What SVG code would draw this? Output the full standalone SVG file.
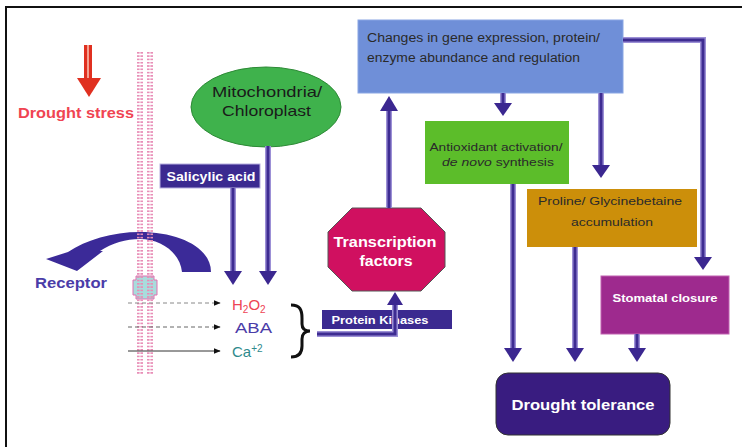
<svg xmlns="http://www.w3.org/2000/svg" width="742" height="447" viewBox="0 0 742 447">
  <defs>
    <pattern id="membraneDots" patternUnits="userSpaceOnUse" x="137" y="52" width="18" height="3.3">
      <rect x="0" y="0" width="2.6" height="1.6" fill="#e88cb6"/>
      <rect x="3.4" y="0" width="2.6" height="1.6" fill="#e88cb6"/>
      <rect x="10" y="0" width="2.6" height="1.6" fill="#e88cb6"/>
      <rect x="13.4" y="0" width="2.6" height="1.6" fill="#e88cb6"/>
    </pattern>
    <marker id="smallHead" viewBox="0 0 10 10" refX="9" refY="5" markerWidth="7" markerHeight="7" markerUnits="userSpaceOnUse" orient="auto">
      <path d="M0,1 L10,5 L0,9 Z" fill="#111"/>
    </marker>
  </defs>
  <style>
    .lbl { font-family: "Liberation Sans", Arial, sans-serif; }
    .wire-under { fill: none; stroke: #9c90d6; stroke-width: 6; }
    .wire { fill: none; stroke: #3e2c92; stroke-width: 3; }
    .head { fill: #3b2790; }
    .box-text { font-family: "Liberation Sans", Arial, sans-serif; font-size: 11px; fill: #2a2a2a; text-anchor: middle; }
    .white-text { font-family: "Liberation Sans", Arial, sans-serif; fill: #ffffff; font-weight: bold; text-anchor: middle; }
  </style>

  <rect width="742" height="447" fill="#ffffff"/>
  <!-- frame -->
  <rect x="6" y="7" width="800" height="500" fill="none" stroke="#111" stroke-width="2"/>

  <!-- drought stress -->
  <g id="drought-stress">
    <rect x="84" y="45" width="8" height="35" fill="#e03020"/>
    <rect x="87" y="45" width="2" height="35" fill="#f4a090"/>
    <path d="M77,78 L101,78 L89,97 Z" fill="#e03020"/>
    <text class="lbl" x="18" y="118" font-size="15.5" font-weight="bold" fill="#f04452" textLength="116" lengthAdjust="spacingAndGlyphs">Drought stress</text>
  </g>

  <!-- receptor -->
  <g id="receptor">
    <path d="M211,272 C211,248 180,232 140,232 C112,232 86,240 68,252 L46,259 L77,271 L103,251 L100,251 C112,243 126,239 140,239 C160,239 180,252 182,272 Z" fill="#3b2a98"/>
    <path d="M136,276 L154,276 L154,280 L157,280 L157,295 L154,295 L154,299 L136,299 L136,295 L133,295 L133,280 L136,280 Z" fill="#a8dcdc" stroke="#e070b0" stroke-width="1"/>
    <text class="lbl" x="35" y="288" font-size="14" font-weight="bold" fill="#4a3ca8" textLength="72" lengthAdjust="spacingAndGlyphs">Receptor</text>
  </g>

  <!-- membrane, drawn over the receptor -->
  <rect x="137" y="52" width="18" height="323" fill="url(#membraneDots)"/>

  <!-- signal molecules -->
  <g id="signals">
    <line x1="128" y1="303" x2="220" y2="303" stroke="#888" stroke-width="1" stroke-dasharray="4,3" marker-end="url(#smallHead)"/>
    <line x1="128" y1="327" x2="220" y2="327" stroke="#666" stroke-width="1" stroke-dasharray="4,3" marker-end="url(#smallHead)"/>
    <line x1="128" y1="351" x2="220" y2="351" stroke="#333" stroke-width="1" marker-end="url(#smallHead)"/>
    <text class="lbl" x="232" y="310" font-size="15" fill="#ee4455">H<tspan font-size="10" dy="3">2</tspan><tspan dy="-3">O</tspan><tspan font-size="10" dy="3">2</tspan></text>
    <text class="lbl" x="235" y="333" font-size="15" fill="#4a3ca8" textLength="37" lengthAdjust="spacingAndGlyphs">ABA</text>
    <text class="lbl" x="232" y="357" font-size="15" fill="#2e8a8c">Ca<tspan font-size="10" dy="-5">+2</tspan></text>
    <path d="M291,305 C300,305 302,310 302,318 L302,324 C302,329 305,331 310,331 C305,331 302,334 302,339 L302,346 C302,353 299,357 291,357" fill="none" stroke="#111" stroke-width="3"/>
  </g>

  <!-- mitochondria / chloroplast -->
  <g id="mitochondria">
    <ellipse cx="266" cy="107" rx="75" ry="40" fill="#3fb24c" stroke="#2d8a36" stroke-width="1"/>
    <text class="lbl" x="212" y="97" font-size="15" fill="#1a1a1a" textLength="110" lengthAdjust="spacingAndGlyphs">Mitochondria/</text>
    <text class="lbl" x="222" y="116" font-size="15" fill="#1a1a1a" textLength="89" lengthAdjust="spacingAndGlyphs">Chloroplast</text>
  </g>

  <!-- salicylic acid -->
  <g id="salicylic-acid">
    <rect x="160" y="164" width="100" height="24" fill="#3b2a90" stroke="#b8b0e0" stroke-width="1"/>
    <text class="white-text" x="211" y="181" font-size="12.5" textLength="89" lengthAdjust="spacingAndGlyphs">Salicylic acid</text>
  </g>

  <!-- transcription factors -->
  <g id="transcription-factors">
    <polygon points="352,208 421,208 445,232 445,267 421,291 352,291 328,267 328,232" fill="#d01060" stroke="#555" stroke-width="1"/>
    <text class="white-text" x="385" y="247" font-size="15" textLength="103" lengthAdjust="spacingAndGlyphs">Transcription</text>
    <text class="white-text" x="386" y="266" font-size="15" textLength="53" lengthAdjust="spacingAndGlyphs">factors</text>
  </g>

  <!-- protein kinases -->
  <g id="protein-kinases">
    <rect x="322" y="310" width="130" height="19" fill="#3b2a90"/>
    <text class="white-text" x="380" y="324" font-size="11" textLength="97" lengthAdjust="spacingAndGlyphs">Protein Kinases</text>
  </g>

  <!-- gene expression -->
  <g id="gene-expression">
    <rect x="358" y="20" width="265" height="73" fill="#6f8fd8" stroke="#8aa6e4" stroke-width="1"/>
    <text class="lbl" x="367" y="42" font-size="12" fill="#2a2a2a" textLength="233" lengthAdjust="spacingAndGlyphs">Changes in gene expression, protein/</text>
    <text class="lbl" x="367" y="62" font-size="12" fill="#2a2a2a" textLength="213" lengthAdjust="spacingAndGlyphs">enzyme abundance and regulation</text>
  </g>

  <!-- antioxidant -->
  <g id="antioxidant">
    <rect x="425" y="121" width="144" height="63" fill="#5cbd2a"/>
    <text class="box-text" x="496" y="151" textLength="133" lengthAdjust="spacingAndGlyphs">Antioxidant activation/</text>
    <text class="box-text" x="498" y="166" textLength="112" lengthAdjust="spacingAndGlyphs"><tspan font-style="italic">de novo</tspan> synthesis</text>
  </g>

  <!-- proline -->
  <g id="proline">
    <rect x="527" y="189" width="170" height="58" fill="#cc8f0a"/>
    <text class="box-text" x="610" y="205" textLength="144" lengthAdjust="spacingAndGlyphs">Proline/ Glycinebetaine</text>
    <text class="box-text" x="612" y="226" textLength="82" lengthAdjust="spacingAndGlyphs">accumulation</text>
  </g>

  <!-- stomatal closure -->
  <g id="stomatal-closure">
    <rect x="601" y="276" width="128" height="58" fill="#9e2a8e" stroke="#c060b0" stroke-width="1"/>
    <text class="white-text" x="665" y="302" font-size="11.5" textLength="105" lengthAdjust="spacingAndGlyphs">Stomatal closure</text>
  </g>

  <!-- drought tolerance -->
  <g id="drought-tolerance">
    <rect x="496" y="373" width="174" height="62" rx="12" fill="#391c80" stroke="#333" stroke-width="1"/>
    <text class="white-text" x="583" y="410" font-size="15.5" textLength="143" lengthAdjust="spacingAndGlyphs">Drought tolerance</text>
  </g>

  <!-- connectors -->
  <g id="connectors">
    <!-- salicylic acid to H2O2 -->
    <line class="wire-under" x1="233" y1="188" x2="233" y2="272"/>
    <line class="wire" x1="233" y1="188" x2="233" y2="272"/>
    <path class="head" d="M224,271 L242,271 L233,285 Z"/>
    <!-- mitochondria to ABA -->
    <line class="wire-under" x1="268" y1="146" x2="268" y2="272"/>
    <line class="wire" x1="268" y1="146" x2="268" y2="272"/>
    <path class="head" d="M259,271 L277,271 L268,285 Z"/>
    <!-- brace to transcription factors -->
    <path class="wire-under" d="M317,334 L395,334 L395,304"/>
    <path class="wire" d="M317,334 L395,334 L395,304"/>
    <path class="head" d="M387,305 L403,305 L395,292 Z"/>
    <!-- transcription factors to gene expression -->
    <line class="wire-under" x1="389" y1="208" x2="389" y2="110"/>
    <line class="wire" x1="389" y1="208" x2="389" y2="110"/>
    <path class="head" d="M380,111 L398,111 L389,96 Z"/>
    <!-- gene expression to antioxidant -->
    <line class="wire-under" x1="503" y1="93" x2="503" y2="104"/>
    <line class="wire" x1="503" y1="93" x2="503" y2="104"/>
    <path class="head" d="M494,103 L512,103 L503,116 Z"/>
    <!-- gene expression to proline -->
    <line class="wire-under" x1="601" y1="93" x2="601" y2="166"/>
    <line class="wire" x1="601" y1="93" x2="601" y2="166"/>
    <path class="head" d="M592,165 L610,165 L601,178 Z"/>
    <!-- gene expression to stomatal closure -->
    <path class="wire-under" d="M623,40 L703,40 L703,258"/>
    <path class="wire" d="M623,40 L703,40 L703,258"/>
    <path class="head" d="M694,257 L712,257 L703,270 Z"/>
    <!-- antioxidant to drought tolerance -->
    <line class="wire-under" x1="513" y1="184" x2="513" y2="350"/>
    <line class="wire" x1="513" y1="184" x2="513" y2="350"/>
    <path class="head" d="M504,348 L522,348 L513,362 Z"/>
    <!-- proline to drought tolerance -->
    <line class="wire-under" x1="575" y1="247" x2="575" y2="350"/>
    <line class="wire" x1="575" y1="247" x2="575" y2="350"/>
    <path class="head" d="M566,348 L584,348 L575,362 Z"/>
    <!-- stomatal closure to drought tolerance -->
    <line class="wire-under" x1="637" y1="334" x2="637" y2="350"/>
    <line class="wire" x1="637" y1="334" x2="637" y2="350"/>
    <path class="head" d="M628,348 L646,348 L637,362 Z"/>
  </g>
</svg>
